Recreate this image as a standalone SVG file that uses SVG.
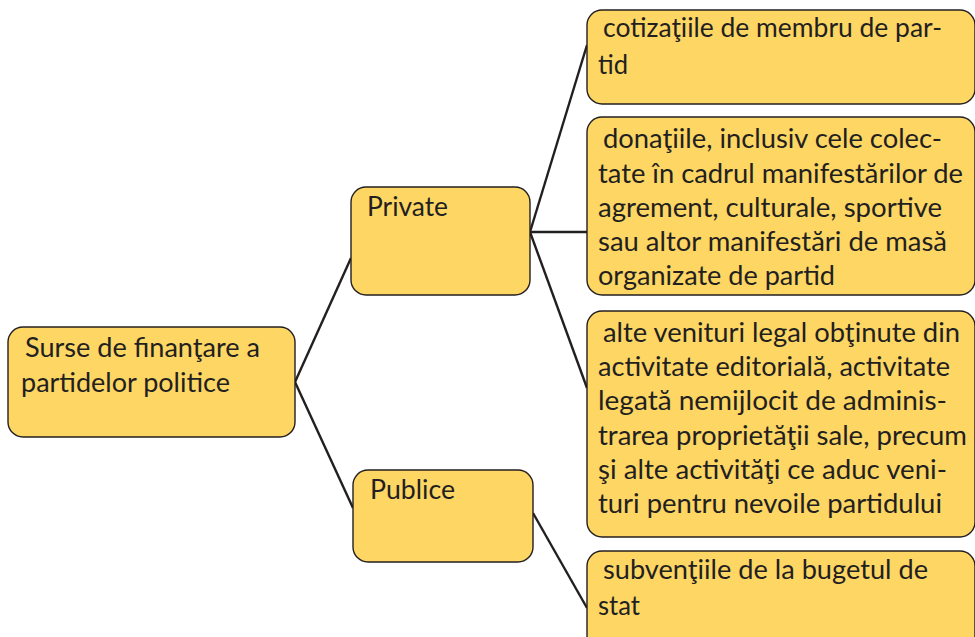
<svg xmlns="http://www.w3.org/2000/svg" width="975" height="637" viewBox="0 0 975 637">
<style>
.box{fill:#FDD664;stroke:#231F20;stroke-width:1.4}
.t{font-family:Lato,"Open Sans","Noto Sans",sans-serif;font-size:26px;fill:#231F20}
.c{stroke:#231F20;stroke-width:2.4;fill:none}
</style>
<rect width="975" height="637" fill="#fff"/>
<g id="connectors">
<line class="c" x1="295" y1="382" x2="351" y2="258"/>
<line class="c" x1="295" y1="382" x2="353" y2="508"/>
<line class="c" x1="530" y1="232" x2="587" y2="45"/>
<line class="c" x1="530" y1="232" x2="587" y2="232"/>
<line class="c" x1="530" y1="232" x2="587" y2="388"/>
<line class="c" x1="533" y1="513" x2="587" y2="608"/>
</g>
<g id="root">
<rect class="box" x="8" y="327" width="287" height="110" rx="15"/>
<text class="t" lengthAdjust="spacingAndGlyphs"><tspan x="25" y="357" textLength="235" lengthAdjust="spacingAndGlyphs">Surse de finanţare a</tspan><tspan x="21" y="392" textLength="209" lengthAdjust="spacingAndGlyphs">partidelor politice</tspan></text>
</g>
<g id="private">
<rect class="box" x="351" y="187" width="179" height="108" rx="15"/>
<text class="t" x="367" y="216" textLength="81" lengthAdjust="spacingAndGlyphs">Private</text>
</g>
<g id="publice">
<rect class="box" x="353" y="470" width="180" height="92" rx="15"/>
<text class="t" x="370" y="499" textLength="85" lengthAdjust="spacingAndGlyphs">Publice</text>
</g>
<g id="cotizatii">
<rect class="box" x="587" y="10" width="388" height="94" rx="15"/>
<text class="t"><tspan x="603" y="37" textLength="339" lengthAdjust="spacingAndGlyphs">cotizaţiile de membru de par-</tspan><tspan x="598" y="74" textLength="30" lengthAdjust="spacingAndGlyphs">tid</tspan></text>
</g>
<g id="donatii">
<rect class="box" x="587" y="117" width="388" height="178" rx="15"/>
<text class="t"><tspan x="603" y="148" textLength="339" lengthAdjust="spacingAndGlyphs">donaţiile, inclusiv cele colec-</tspan><tspan x="598" y="183" textLength="365" lengthAdjust="spacingAndGlyphs">tate în cadrul manifestărilor de</tspan><tspan x="598" y="217" textLength="344" lengthAdjust="spacingAndGlyphs">agrement, culturale, sportive</tspan><tspan x="598" y="251" textLength="349" lengthAdjust="spacingAndGlyphs">sau altor manifestări de masă</tspan><tspan x="598" y="285" textLength="237" lengthAdjust="spacingAndGlyphs">organizate de partid</tspan></text>
</g>
<g id="alte">
<rect class="box" x="587" y="311" width="388" height="226" rx="15"/>
<text class="t"><tspan x="603" y="342" textLength="357" lengthAdjust="spacingAndGlyphs">alte venituri legal obţinute din</tspan><tspan x="598" y="376" textLength="352" lengthAdjust="spacingAndGlyphs">activitate editorială, activitate</tspan><tspan x="598" y="410" textLength="349" lengthAdjust="spacingAndGlyphs">legată nemijlocit de adminis-</tspan><tspan x="598" y="445" textLength="369" lengthAdjust="spacingAndGlyphs">trarea proprietăţii sale, precum</tspan><tspan x="598" y="479" textLength="349" lengthAdjust="spacingAndGlyphs">şi alte activităţi ce aduc veni-</tspan><tspan x="598" y="513" textLength="344" lengthAdjust="spacingAndGlyphs">turi pentru nevoile partidului</tspan></text>
</g>
<g id="subventii">
<rect class="box" x="587" y="551" width="388" height="100" rx="15"/>
<text class="t"><tspan x="603" y="579" textLength="325" lengthAdjust="spacingAndGlyphs">subvenţiile de la bugetul de</tspan><tspan x="598" y="615" textLength="42" lengthAdjust="spacingAndGlyphs">stat</tspan></text>
</g>
</svg>
